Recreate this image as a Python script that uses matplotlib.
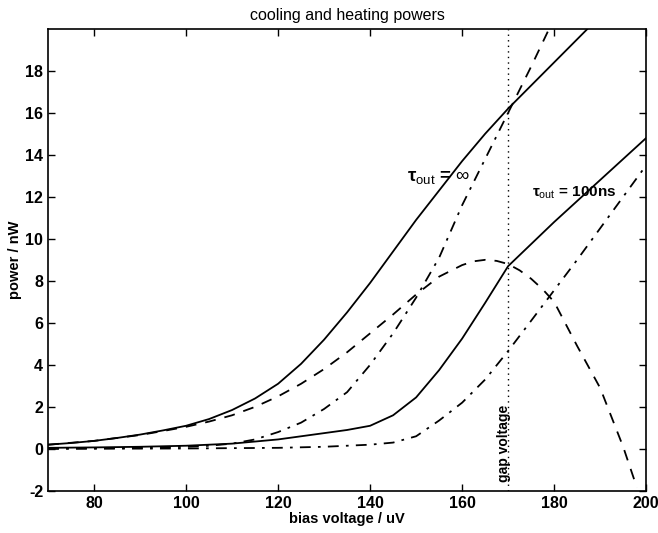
import numpy as np
import matplotlib
matplotlib.use("Agg")
import matplotlib.pyplot as plt

# --- data (bias voltage in uV, power in nW) ---
v_cool_inf = [70, 75, 80, 85, 90, 95, 100, 105, 110, 115, 120, 125, 130, 135, 140,
              145, 150, 155, 160, 165, 170, 175, 180, 185, 190]
p_cool_inf = [0.2, 0.28, 0.38, 0.52, 0.68, 0.88, 1.1, 1.42, 1.85, 2.4, 3.1, 4.05, 5.2,
              6.5, 7.9, 9.4, 10.9, 12.3, 13.7, 15.0, 16.2, 17.3, 18.4, 19.5, 20.6]

v_net_inf = [70, 80, 90, 95, 100, 105, 110, 115, 120, 125, 130, 135, 140, 145, 150,
             155, 160, 162.5, 165, 167.5, 170, 172.5, 175, 177.5, 180, 185, 190, 195, 198]
p_net_inf = [0.2, 0.38, 0.66, 0.85, 1.05, 1.3, 1.6, 2.0, 2.5, 3.1, 3.8, 4.6, 5.5, 6.4,
             7.35, 8.2, 8.75, 8.93, 9.0, 8.95, 8.8, 8.5, 8.1, 7.6, 7.0, 4.9, 2.9, 0.1, -1.85]

v_heat_inf = [70, 80, 90, 100, 105, 110, 115, 120, 125, 130, 135, 140, 145, 150, 155,
              160, 165, 170]
p_heat_inf = [0.02, 0.03, 0.05, 0.1, 0.15, 0.25, 0.45, 0.8, 1.25, 1.9, 2.7, 4.0, 5.5,
              7.2, 9.1, 11.6, 13.8, 16.0]

v_heat_gap = [170, 175, 180]
p_heat_gap = [16.0, 18.2, 20.5]

v_cool_100 = [70, 80, 90, 100, 110, 120, 130, 135, 140, 145, 150, 155, 160, 165, 170,
              180, 190, 200]
p_cool_100 = [0.05, 0.07, 0.1, 0.15, 0.25, 0.45, 0.75, 0.9, 1.1, 1.6, 2.45, 3.75, 5.25,
              6.95, 8.7, 10.8, 12.8, 14.8]

v_heat_100 = [70, 100, 120, 130, 140, 145, 150, 155, 160, 165, 170, 175, 180, 185, 190,
              195, 200]
p_heat_100 = [0.0, 0.02, 0.05, 0.1, 0.2, 0.3, 0.6, 1.35, 2.2, 3.3, 4.66, 6.1, 7.55, 9.0,
              10.5, 12.0, 13.5]

gap_voltage = 170

plt.rcParams['font.family'] = ['Liberation Sans', 'DejaVu Sans']
plt.rcParams['axes.unicode_minus'] = False
plt.rcParams['mathtext.fontset'] = 'custom'
plt.rcParams['mathtext.rm'] = 'Liberation Sans'
plt.rcParams['mathtext.it'] = 'Liberation Sans:italic'
plt.rcParams['mathtext.bf'] = 'Liberation Sans:bold'

fig = plt.figure(figsize=(6.58, 5.33), dpi=100)
ax = fig.add_axes([0.073, 0.079, 0.909, 0.867])

lw = 1.3
ax.plot(v_cool_inf, p_cool_inf, '-', color='black', lw=lw)
ax.plot(v_net_inf, p_net_inf, '--', color='black', lw=lw, dashes=(6, 5))
ax.plot(v_heat_inf, p_heat_inf, '-.', color='black', lw=lw, dashes=(6, 4, 1.5, 4))
ax.plot(v_heat_gap, p_heat_gap, '--', color='black', lw=lw, dashes=(6, 5))
ax.plot(v_cool_100, p_cool_100, '-', color='black', lw=lw)
ax.plot(v_heat_100, p_heat_100, '-.', color='black', lw=lw, dashes=(6, 4, 1.5, 4))

ax.axvline(gap_voltage, color='black', lw=1.0, linestyle=(0, (1, 3)))
ax.text(gap_voltage - 0.8, -1.6, 'gap voltage', rotation=90, ha='center', va='bottom',
        fontsize=10, fontweight='bold')

ax.text(148.0, 12.9, r'$\mathbf{\tau}_{\rm out}$ = $\infty$', fontsize=13.5,
        fontweight='bold', ha='left', va='center')
ax.text(175.2, 12.2, r'$\mathbf{\tau}_{\rm out}$ = 100ns', fontsize=11,
        fontweight='bold', ha='left', va='center')

ax.set_xlim(70, 200)
ax.set_ylim(-2, 20)
ax.set_xticks(np.arange(80, 201, 20))
ax.set_yticks(np.arange(-2, 19, 2))
ax.tick_params(direction='in', top=True, right=True, length=5, width=1,
               labelsize=11.5)
for lab in ax.get_xticklabels() + ax.get_yticklabels():
    lab.set_fontweight('bold')
for sp in ax.spines.values():
    sp.set_linewidth(1.2)

ax.set_title('cooling and heating powers', fontsize=11.5, pad=6)
ax.set_xlabel('bias voltage / uV', fontsize=10.5, fontweight='bold', labelpad=1)
ax.set_ylabel('power / nW', fontsize=10.5, fontweight='bold', labelpad=2)

fig.savefig('out.png', dpi=100)
